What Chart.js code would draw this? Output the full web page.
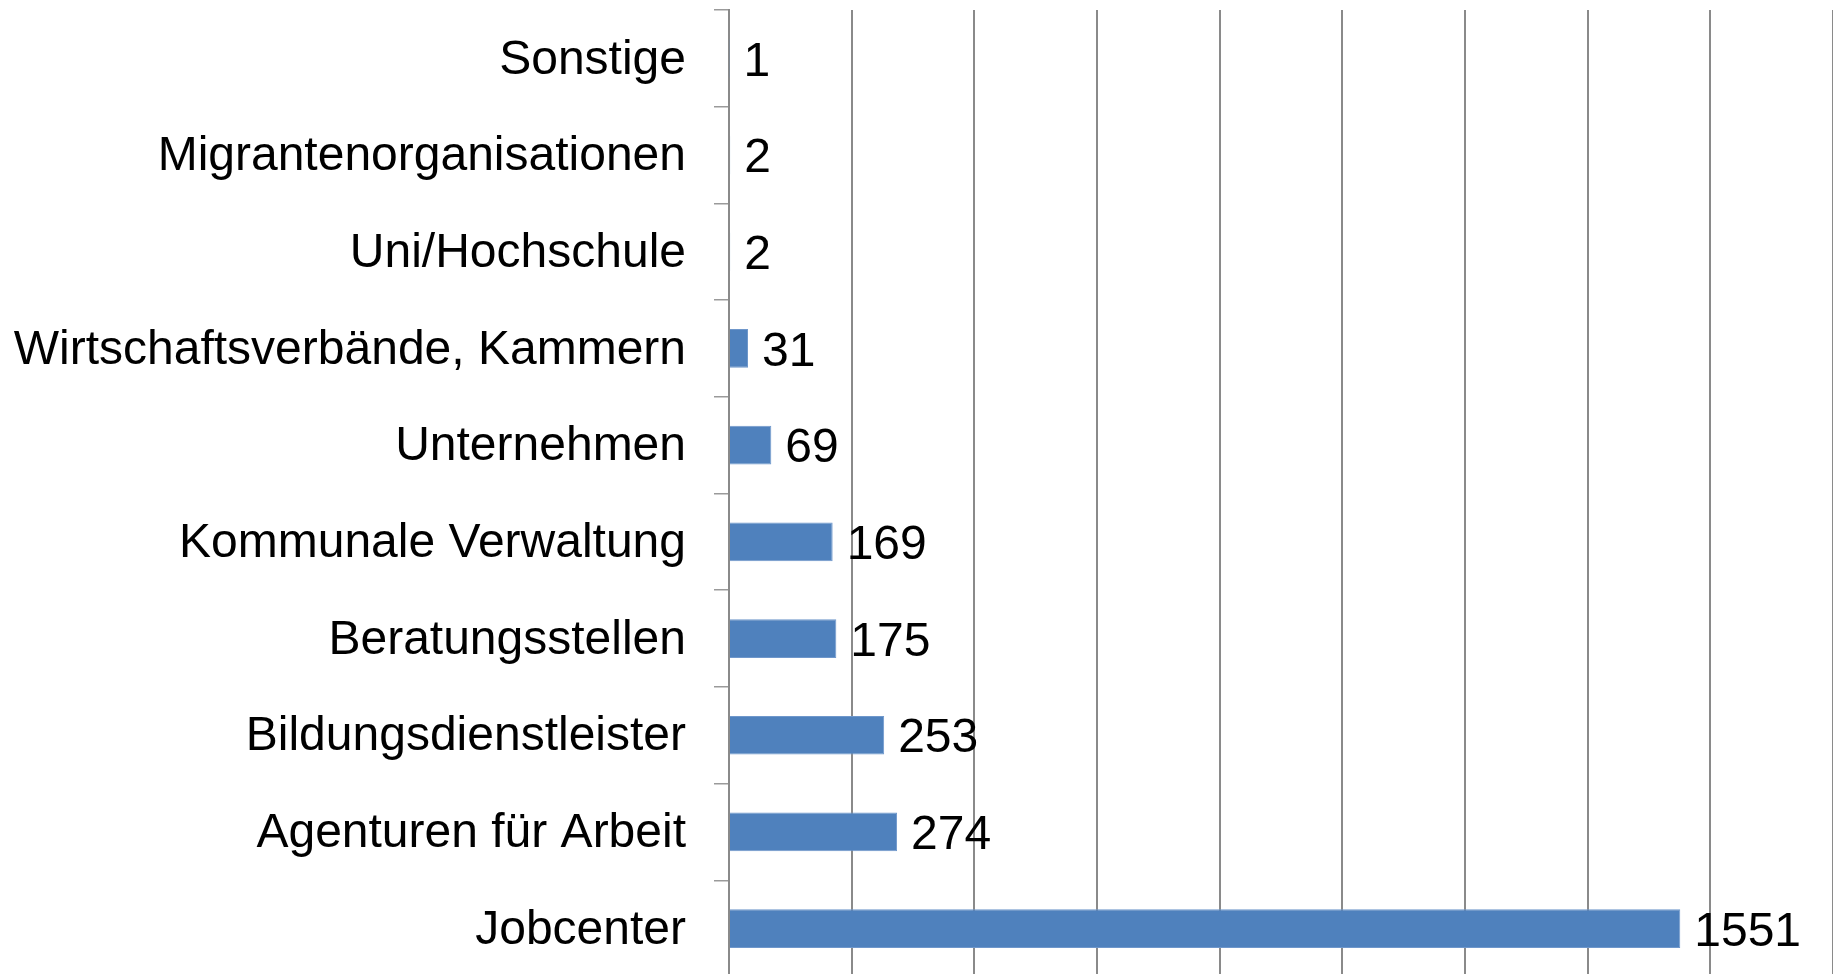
<!DOCTYPE html>
<html>
<head>
    <meta charset="utf-8">
    <title>Kooperationspartner</title>
    <script src="https://cdn.jsdelivr.net/npm/chart.js"></script>
    <style>
        html, body {
            margin: 0;
            padding: 0;
            background: #ffffff;
            overflow: hidden;
        }
        .chart-box {
            width: 1833px;
            height: 977px;
        }
    </style>
</head>
<body>
<div class="chart-box">
    <canvas id="partner-chart"></canvas>
</div>
<script>
    // Categories from top to bottom, as in the picture
    const categories = [
        'Sonstige',
        'Migrantenorganisationen',
        'Uni/Hochschule',
        'Wirtschaftsverbände, Kammern',
        'Unternehmen',
        'Kommunale Verwaltung',
        'Beratungsstellen',
        'Bildungsdienstleister',
        'Agenturen für Arbeit',
        'Jobcenter'
    ];
    const counts = [1, 2, 2, 31, 69, 169, 175, 253, 274, 1551];
    const axisMin = 0;
    const axisMax = 1800;
    const axisStep = 200;

    const labelFont = '48px "Liberation Sans", Arial, sans-serif';
    const gridGray = '#8a8a8a';

    // Draw the value next to the end of each bar
    const valueLabels = {
        id: 'valueLabels',
        afterDatasetsDraw(chart) {
            const ctx = chart.ctx;
            const meta = chart.getDatasetMeta(0);
            ctx.save();
            ctx.font = labelFont;
            ctx.fillStyle = '#000000';
            ctx.textAlign = 'left';
            ctx.textBaseline = 'middle';
            meta.data.forEach((bar, i) => {
                ctx.fillText(String(counts[i]), bar.x + 14, bar.y + 4);
            });
            ctx.restore();
        }
    };

    new Chart(document.getElementById('partner-chart'), {
        type: 'bar',
        data: {
            labels: categories,
            datasets: [{
                data: counts,
                backgroundColor: '#4f81bd',
                borderColor: '#6f97cb',
                borderWidth: 1,
                barPercentage: 0.4,
                categoryPercentage: 1.0
            }]
        },
        plugins: [valueLabels],
        options: {
            indexAxis: 'y',
            responsive: true,
            maintainAspectRatio: false,
            animation: false,
            layout: {
                padding: { top: 10, left: 0, right: 0, bottom: 0 }
            },
            plugins: {
                legend: { display: false },
                tooltip: { enabled: false },
                title: { display: false }
            },
            scales: {
                x: {
                    min: axisMin,
                    max: axisMax,
                    ticks: { display: false, stepSize: axisStep },
                    grid: {
                        color: gridGray,
                        lineWidth: 2,
                        drawTicks: false
                    },
                    border: { display: false },
                    afterFit(scale) {
                        scale.height = 0;
                        scale.paddingLeft = 0;
                        scale.paddingRight = 0;
                    }
                },
                y: {
                    ticks: {
                        color: '#000000',
                        font: { family: '"Liberation Sans", Arial, sans-serif', size: 48 },
                        padding: 28,
                        labelOffset: 2,
                        autoSkip: false
                    },
                    grid: {
                        drawOnChartArea: false,
                        drawTicks: true,
                        tickLength: 15,
                        color: '#9a9a9a',
                        lineWidth: 1.5
                    },
                    border: {
                        display: true,
                        color: gridGray,
                        width: 2
                    },
                    afterFit(scale) {
                        scale.width = 729;
                        scale.paddingTop = 0;
                        scale.paddingBottom = 0;
                    }
                }
            }
        }
    });
</script>
</body>
</html>
